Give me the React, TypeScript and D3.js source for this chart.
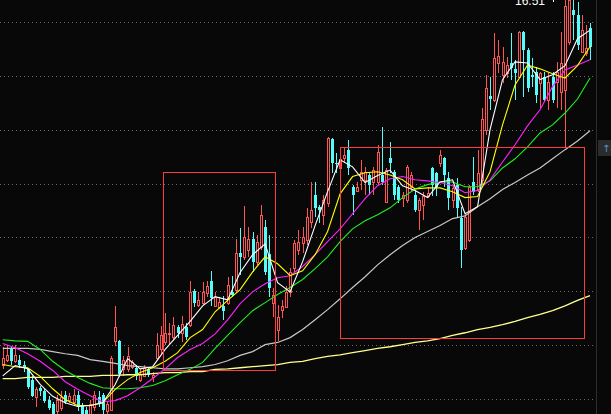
import React from 'react';
import * as d3 from 'd3';

// daily prices, one entry per candle (left to right)
const opens = [
  9.64, 9.73, 9.94, 9.70, 9.73, 9.64, 9.55, 9.36, 9.03, 9.21,
  9.14, 8.99, 8.90, 8.77, 8.84, 9.08, 8.99, 8.95, 9.08, 8.88,
  8.80, 8.69, 8.86, 9.03, 9.08, 8.77, 8.80, 10.07, 10.07, 9.55,
  9.55, 9.60, 9.58, 9.36, 9.42, 9.55, 9.40, 9.77, 9.92, 10.05,
  10.20, 10.16, 10.33, 10.23, 10.33, 10.38, 11.01, 10.75, 10.79, 10.97,
  11.20, 10.73, 10.71, 10.73, 10.79, 10.99, 11.03, 11.72, 11.64, 11.77,
  11.98, 11.55, 11.83, 12.20, 11.70, 10.79, 10.29, 10.66, 10.71, 10.99,
  11.44, 11.77, 11.90, 11.96, 12.29, 12.79, 12.57, 12.42, 12.64, 13.83,
  13.39, 13.29, 13.48, 13.63, 12.94, 12.87, 13.07, 13.07, 13.16, 13.02,
  13.02, 13.16, 12.66, 13.48, 13.22, 12.94, 12.74, 12.70, 12.94, 12.79,
  12.51, 12.61, 12.76, 13.29, 13.20, 13.39, 13.48, 13.11, 12.70, 12.98,
  12.37, 11.81, 11.96, 13.02, 12.89, 13.07, 14.00, 14.63, 14.55, 15.24,
  15.02, 15.06, 15.24, 15.13, 14.98, 15.82, 15.48, 15.02, 15.07, 14.87,
  14.98, 14.55, 14.98, 14.89, 14.70, 14.74, 15.63, 16.22, 16.13, 15.45,
  15.43, 15.89,
];
const closes = [
  9.77, 9.82, 9.70, 9.82, 9.64, 9.58, 9.23, 9.05, 9.18, 9.14,
  8.97, 8.84, 8.73, 8.99, 9.03, 8.95, 9.06, 9.08, 8.86, 8.73,
  8.66, 8.90, 9.08, 8.93, 8.79, 8.90, 9.77, 10.33, 9.47, 9.73,
  9.79, 9.68, 9.42, 9.47, 9.58, 9.45, 9.45, 10.01, 10.18, 10.23,
  10.23, 10.38, 10.23, 10.40, 10.16, 10.99, 10.79, 10.84, 10.99, 11.10,
  10.88, 10.90, 10.81, 10.64, 11.12, 10.94, 11.72, 11.64, 12.00, 11.98,
  11.55, 11.92, 12.42, 11.36, 11.07, 10.94, 10.53, 10.73, 10.99, 11.36,
  11.90, 11.92, 12.00, 12.38, 12.51, 12.55, 12.51, 12.70, 13.85, 13.39,
  13.37, 13.46, 13.53, 13.29, 12.79, 12.94, 13.22, 13.22, 12.98, 13.25,
  13.59, 13.03, 13.25, 13.39, 12.79, 12.70, 12.79, 13.31, 13.16, 12.51,
  12.70, 12.76, 12.83, 12.98, 12.94, 13.53, 13.16, 12.74, 12.92, 12.55,
  11.77, 12.38, 12.94, 12.85, 13.20, 14.20, 14.78, 14.57, 15.33, 15.37,
  15.26, 15.20, 15.15, 15.06, 15.82, 15.48, 14.78, 14.98, 14.65, 15.06,
  14.55, 14.89, 14.55, 15.07, 15.24, 16.30, 16.40, 16.13, 15.58, 15.85,
  15.52, 15.54,
];
const highs = [
  9.97, 10.01, 9.96, 10.01, 9.82, 9.70, 9.58, 9.42, 9.23, 9.25,
  9.18, 9.05, 8.95, 9.08, 9.14, 9.14, 9.12, 9.18, 9.14, 8.92,
  8.86, 8.99, 9.14, 9.14, 9.12, 8.95, 9.79, 10.73, 10.10, 9.79,
  9.97, 9.73, 9.64, 9.55, 9.64, 9.60, 9.51, 10.23, 10.36, 10.59,
  10.42, 10.53, 10.38, 10.55, 10.42, 11.20, 11.05, 10.99, 11.18, 11.20,
  11.38, 10.99, 10.90, 10.92, 11.27, 11.29, 11.98, 12.18, 12.59, 12.20,
  12.11, 12.05, 12.61, 12.33, 12.05, 11.07, 10.75, 10.84, 11.09, 11.44,
  11.96, 12.14, 12.20, 12.55, 13.02, 13.02, 12.61, 12.79, 13.87, 13.85,
  13.57, 13.50, 13.68, 13.81, 12.98, 13.02, 13.44, 13.31, 13.22, 13.31,
  13.72, 14.05, 13.29, 13.77, 13.25, 12.98, 12.85, 13.35, 13.22, 12.88,
  12.74, 12.85, 12.94, 13.31, 13.22, 13.63, 13.50, 13.22, 12.98, 13.11,
  12.57, 12.46, 12.98, 13.50, 13.63, 14.41, 15.02, 14.98, 15.80, 15.67,
  15.54, 15.35, 15.80, 15.30, 15.83, 15.83, 15.52, 15.33, 15.17, 15.07,
  15.07, 15.07, 15.07, 15.26, 15.82, 16.45, 16.51, 16.50, 16.37, 16.13,
  15.95, 15.98,
];
const lows = [
  9.55, 9.68, 9.64, 9.66, 9.58, 9.51, 9.19, 9.03, 8.86, 9.05,
  8.93, 8.80, 8.62, 8.66, 8.77, 8.90, 8.92, 8.88, 8.77, 8.66,
  8.62, 8.62, 8.77, 8.86, 8.73, 8.69, 8.77, 9.99, 9.40, 9.42,
  9.51, 9.55, 9.36, 9.32, 9.40, 9.40, 9.32, 9.73, 9.81, 10.01,
  10.01, 10.10, 10.14, 10.05, 10.10, 10.34, 10.71, 10.70, 10.75, 10.90,
  10.73, 10.70, 10.68, 10.47, 10.75, 10.90, 10.99, 11.31, 11.59, 11.64,
  11.35, 11.49, 11.77, 11.31, 10.90, 10.53, 10.07, 10.51, 10.70, 10.90,
  11.36, 11.68, 11.72, 11.86, 12.18, 12.38, 12.27, 12.24, 12.57, 13.20,
  13.20, 13.16, 13.39, 13.16, 12.42, 12.85, 12.88, 12.79, 12.79, 12.79,
  12.98, 12.98, 12.64, 13.20, 12.70, 12.64, 12.57, 12.64, 12.85, 12.48,
  12.14, 12.33, 12.74, 12.76, 12.76, 13.31, 12.94, 12.51, 12.55, 12.37,
  11.44, 11.77, 11.92, 12.79, 12.85, 12.98, 13.91, 14.37, 14.52, 15.06,
  14.87, 14.96, 14.93, 14.55, 14.96, 14.61, 14.70, 14.80, 14.50, 14.41,
  14.52, 14.37, 14.50, 14.41, 14.37, 13.68, 15.57, 15.67, 15.48, 15.43,
  15.37, 15.30,
];

// moving averages, read every third candle
const maDays = [
  0, 3, 6, 9, 12, 15, 18, 21, 24, 27, 30, 33, 36, 39, 42, 45,
  48, 51, 54, 57, 60, 63, 66, 69, 72, 75, 78, 81, 84, 87, 90, 93,
  96, 99, 102, 105, 108, 111, 114, 117, 120, 123, 126, 129, 132, 135, 138, 141,
];
const ma5 = [
  9.43, 9.62, 9.56, 9.27, 9.05, 8.93, 8.86, 8.88, 8.93, 9.27, 9.75, 9.56, 9.60, 9.92, 10.18, 10.44,
  10.73, 10.90, 10.84, 11.35, 11.68, 11.88, 11.16, 10.99, 11.55, 12.22, 12.85, 13.44, 13.31, 13.02, 13.15, 13.25,
  12.96, 12.87, 12.74, 13.03, 13.07, 12.44, 12.57, 14.00, 14.93, 15.26, 15.24, 14.93, 15.02, 15.19, 15.69, 15.85,
];
const ma10 = [
  9.64, 9.60, 9.58, 9.42, 9.19, 8.99, 8.88, 8.88, 8.93, 9.18, 9.36, 9.49, 9.58, 9.70, 9.86, 10.14,
  10.29, 10.62, 10.83, 11.03, 11.36, 11.64, 11.51, 11.29, 11.38, 11.68, 12.11, 12.81, 13.13, 13.20, 13.22, 13.16,
  13.07, 12.90, 12.92, 12.92, 12.85, 12.74, 12.76, 13.22, 14.09, 14.83, 15.20, 15.13, 15.04, 14.96, 15.19, 15.54,
];
const ma20 = [
  10.03, 9.95, 9.84, 9.70, 9.53, 9.32, 9.18, 9.06, 8.95, 8.97, 9.06, 9.21, 9.38, 9.56, 9.77, 9.92,
  10.03, 10.21, 10.47, 10.77, 10.99, 11.14, 11.25, 11.29, 11.46, 11.68, 11.92, 12.16, 12.44, 12.72, 12.96, 13.09,
  13.13, 13.07, 13.05, 13.02, 12.96, 12.83, 12.87, 13.07, 13.40, 13.72, 14.07, 14.37, 14.80, 15.11, 15.20, 15.30,
];
const ma30 = [
  10.10, 10.08, 10.07, 9.92, 9.70, 9.53, 9.40, 9.29, 9.21, 9.19, 9.19, 9.21, 9.25, 9.34, 9.45, 9.55,
  9.68, 9.94, 10.18, 10.42, 10.64, 10.79, 10.94, 11.07, 11.22, 11.42, 11.64, 11.92, 12.16, 12.31, 12.42, 12.55,
  12.74, 12.90, 12.98, 13.03, 13.03, 12.94, 12.94, 13.05, 13.29, 13.46, 13.68, 13.94, 14.09, 14.31, 14.57, 14.96,
];
const ma60 = [
  9.94, 9.94, 9.94, 9.92, 9.88, 9.84, 9.81, 9.73, 9.70, 9.66, 9.62, 9.60, 9.58, 9.56, 9.56, 9.58,
  9.60, 9.64, 9.71, 9.81, 9.88, 10.01, 10.05, 10.14, 10.29, 10.47, 10.66, 10.86, 11.07, 11.27, 11.49, 11.68,
  11.85, 12.00, 12.11, 12.22, 12.35, 12.40, 12.57, 12.72, 12.89, 13.02, 13.16, 13.29, 13.46, 13.63, 13.79, 13.98,
];
const ma250 = [
  9.38, 9.38, 9.40, 9.40, 9.40, 9.42, 9.42, 9.42, 9.44, 9.44, 9.45, 9.45, 9.47, 9.49, 9.49, 9.51,
  9.51, 9.55, 9.56, 9.58, 9.60, 9.62, 9.64, 9.68, 9.70, 9.75, 9.79, 9.82, 9.86, 9.90, 9.94, 9.97,
  10.01, 10.05, 10.08, 10.12, 10.18, 10.23, 10.29, 10.33, 10.38, 10.44, 10.51, 10.57, 10.64, 10.73, 10.83, 10.92,
];

// hand-drawn boxes, in candle index / price
const boxStart = [38.6, 80.9];
const boxEnd = [65.3, 139.5];
const boxTop = [13.21, 13.67];
const boxBottom = [9.54, 10.13];

const maxLabel = '16.51';

const W = 611;
const H = 414;
const plotRight = 596;
const bg = '#080808';
const upColor = '#ff5454';
const downColor = '#54fcfc';

const App: React.FC = () => {
  const x = d3.scaleLinear().domain([0, opens.length - 1]).range([2.7, 590]);
  const y = d3.scaleLinear().domain([9, 16]).range([399, 22]);

  const line = d3
    .line<[number, number]>()
    .x((d) => x(d[0]))
    .y((d) => y(d[1]));

  const maSeries = [
    { vals: ma250, color: '#ffff90', w: 1.3 },
    { vals: ma60, color: '#c8c8c8', w: 1.2 },
    { vals: ma30, color: '#22ee22', w: 1.1 },
    { vals: ma20, color: '#ff22ff', w: 1.1 },
    { vals: ma10, color: '#ffff00', w: 1.1 },
    { vals: ma5, color: '#ffffff', w: 1.1 },
  ];

  const gridLines = y.ticks(8);

  return (
    <svg
      width={W}
      height={H}
      style={{ position: 'absolute', left: 0, top: 0, display: 'block' }}
    >
      <rect x={0} y={0} width={W} height={H} fill={bg} />
      <defs>
        <clipPath id="plot">
          <rect x={0} y={0} width={plotRight} height={H} />
        </clipPath>
      </defs>

      {/* dotted price grid */}
      {gridLines.map((t) => (
        <line
          key={t}
          x1={0}
          x2={plotRight}
          y1={Math.round(y(t)) + 0.5}
          y2={Math.round(y(t)) + 0.5}
          stroke="#6a6a6a"
          strokeDasharray="1,3"
          shapeRendering="crispEdges"
        />
      ))}

      <g clipPath="url(#plot)">
        {/* candles */}
        {opens.map((o, i) => {
          const c = closes[i];
          const cx = Math.round(x(i));
          const up = c > o;
          const yTop = Math.round(y(Math.max(o, c)));
          const yBot = Math.round(y(Math.min(o, c)));
          const yHi = Math.round(y(highs[i]));
          const yLo = Math.round(y(lows[i]));
          const bodyH = Math.max(1, yBot - yTop);
          if (up) {
            return (
              <g key={i} shapeRendering="crispEdges">
                <line x1={cx + 0.5} x2={cx + 0.5} y1={yHi} y2={yTop} stroke={upColor} />
                <line x1={cx + 0.5} x2={cx + 0.5} y1={yTop + bodyH} y2={yLo} stroke={upColor} />
                <rect
                  x={cx - 0.5}
                  y={yTop + 0.5}
                  width={2}
                  height={bodyH}
                  fill={bg}
                  stroke={upColor}
                />
              </g>
            );
          }
          return (
            <g key={i} shapeRendering="crispEdges">
              <line x1={cx + 0.5} x2={cx + 0.5} y1={yHi} y2={yLo} stroke={downColor} />
              <rect x={cx - 1} y={yTop} width={3} height={bodyH} fill={downColor} />
            </g>
          );
        })}

        {/* moving averages */}
        {maSeries.map((s, k) => (
          <path
            key={k}
            d={line(maDays.map((d, j) => [d, s.vals[j]] as [number, number])) || ''}
            fill="none"
            stroke={s.color}
            strokeWidth={s.w}
          />
        ))}

        {/* boxes */}
        {boxStart.map((b, k) => (
          <rect
            key={k}
            x={Math.round(x(b)) + 0.5}
            y={Math.round(y(boxTop[k])) + 0.5}
            width={Math.round(x(boxEnd[k])) - Math.round(x(b))}
            height={Math.round(y(boxBottom[k])) - Math.round(y(boxTop[k]))}
            fill="none"
            stroke="#ff3a3a"
            strokeWidth={1.2}
            shapeRendering="crispEdges"
          />
        ))}
      </g>

      {/* right edge of plot */}
      <line
        x1={plotRight + 0.5}
        x2={plotRight + 0.5}
        y1={0}
        y2={H}
        stroke="#2e2e2e"
        shapeRendering="crispEdges"
      />
      <rect x={598} y={140} width={13} height={16} fill="#2c2c2c" />
      <text x={602} y={152} fontSize={10} fill="#5a8fd0" fontFamily="DejaVu Sans">
        ↑
      </text>

      {/* max price label */}
      <text
        x={515}
        y={5}
        fontSize={12}
        fill="#ffffff"
        fontFamily="Liberation Sans, Arial, sans-serif"
      >
        {maxLabel}
      </text>
      <rect x={553} y={0} width={1} height={2} fill="#ffffff" />
    </svg>
  );
};

export default App;
